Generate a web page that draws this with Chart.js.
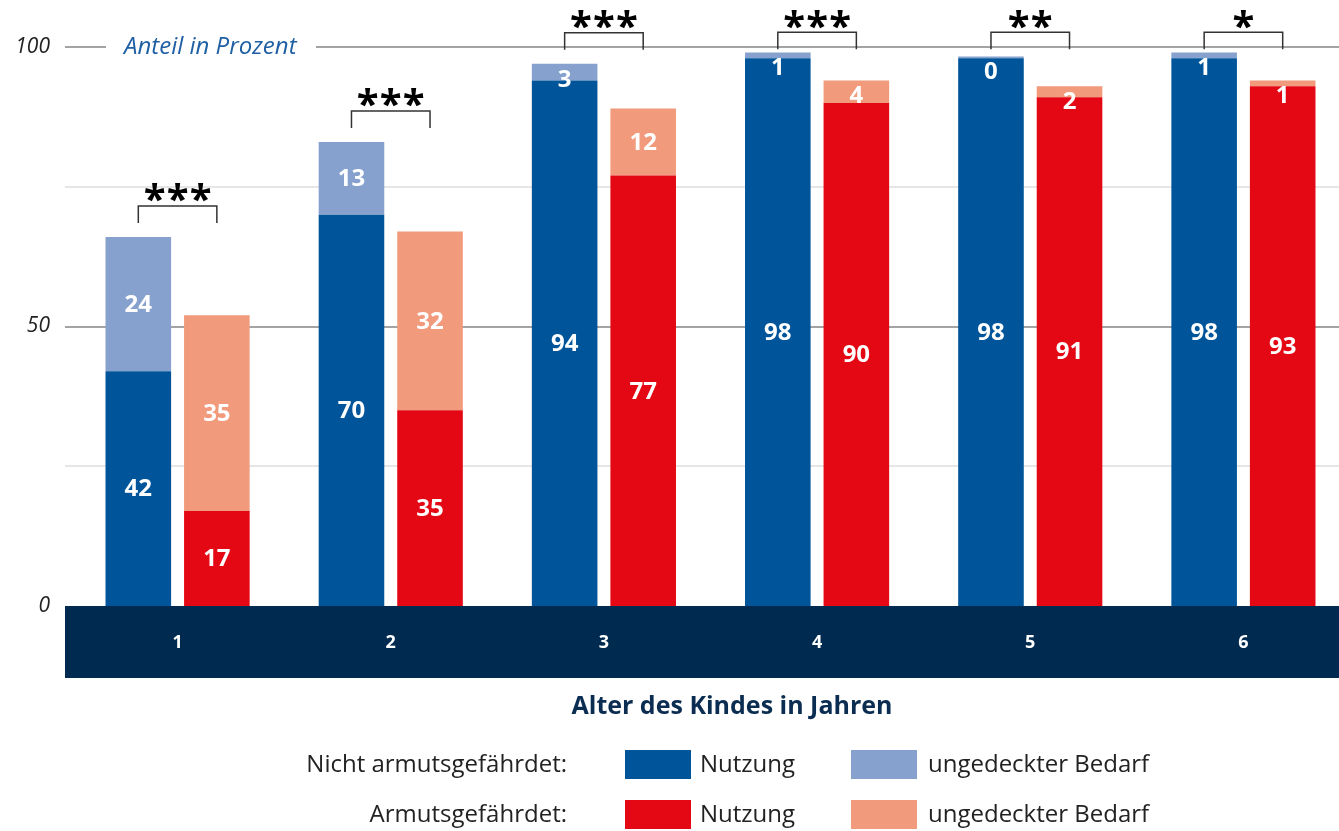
<!DOCTYPE html>
<html>
<head>
<meta charset="utf-8">
<script src="https://cdn.jsdelivr.net/npm/chart.js@4.4.1/dist/chart.umd.min.js"></script>
<style>
  html, body { margin: 0; padding: 0; overflow: hidden; background: #fff; }
  #wrap { position: absolute; left: 0; top: 0; width: 1352px; height: 831px; }
</style>
</head>
<body>
<div id="wrap"><canvas id="chart"></canvas></div>
<script>
var ages = ["1", "2", "3", "4", "5", "6"];
var nichtNutzung = [42, 70, 94, 98, 98, 98];
var nichtBedarf = [24, 13, 3, 1, 0.3, 1];
var armNutzung = [17, 35, 77, 90, 91, 93];
var armBedarf = [35, 32, 12, 4, 2, 1];
var signif = ["***", "***", "***", "***", "**", "*"];
var yTicks = [25, 50, 75, 100];
var yLabels = [0, 50, 100];

var colors = {
    blue: "#00559a",
    lightBlue: "#86a1cd",
    red: "#e30814",
    salmon: "#f29a7c",
    navy: "#002a4f"
};

var FONT = "'Open Sans', 'Noto Sans', sans-serif";

var overlay = {
    id: 'overlay',
    beforeDatasetsDraw: function (chart) {
        var ctx = chart.ctx, y = chart.scales.y;
        ctx.save();
        yTicks.forEach(function (v) {
            var py = Math.round(y.getPixelForValue(v));
            var major = v % 50 === 0;
            ctx.strokeStyle = major ? '#a3a3a3' : '#dedede';
            ctx.lineWidth = major ? 2 : 1.5;
            ctx.beginPath();
            ctx.moveTo(65, py);
            ctx.lineTo(chart.width, py);
            ctx.stroke();
        });
        // gap in the 100 line for the axis title
        var p100 = y.getPixelForValue(100);
        ctx.fillStyle = '#fff';
        ctx.fillRect(106, p100 - 4, 210, 8);
        ctx.fillStyle = '#1f5fa3';
        ctx.font = 'italic 24px ' + FONT;
        ctx.textAlign = 'left';
        ctx.textBaseline = 'middle';
        ctx.fillText('Anteil in Prozent', 124, p100);

        ctx.fillStyle = '#222';
        ctx.textAlign = 'right';
        ctx.font = 'italic 21px ' + FONT;
        yLabels.forEach(function (v) {
            ctx.fillText(String(v), 50, y.getPixelForValue(v));
        });
        ctx.restore();
    },
    afterDatasetsDraw: function (chart) {
        var ctx = chart.ctx, x = chart.scales.x, y = chart.scales.y;
        ctx.save();

        // category band
        var base = y.getPixelForValue(0);
        ctx.fillStyle = colors.navy;
        ctx.fillRect(65, base, chart.width - 65, 72);
        ctx.fillStyle = '#fff';
        ctx.font = 'bold 18px ' + FONT;
        ctx.textAlign = 'center';
        ctx.textBaseline = 'middle';
        ages.forEach(function (a, i) {
            ctx.fillText(a, x.getPixelForValue(i), base + 37);
        });

        // value labels
        ctx.font = 'bold 24px ' + FONT;
        [[0, 1], [2, 3]].forEach(function (pair) {
            var low = chart.getDatasetMeta(pair[0]).data;
            var high = chart.getDatasetMeta(pair[1]).data;
            var dl = chart.data.datasets[pair[0]].data;
            var dh = chart.data.datasets[pair[1]].data;
            low.forEach(function (el, i) {
                var top = high[i].y;
                ctx.fillText(String(Math.round(dl[i])), el.x, (el.y + el.base) / 2 + 1);
                var hy = Math.max((high[i].y + high[i].base) / 2, top + 15);
                ctx.fillText(String(Math.round(dh[i])), el.x, hy + 1);
            });
        });

        // significance brackets
        var blueTop = chart.getDatasetMeta(1).data;
        var redTop = chart.getDatasetMeta(3).data;
        ctx.strokeStyle = '#333';
        ctx.lineWidth = 1.5;
        signif.forEach(function (s, i) {
            var maxVal = Math.max(nichtNutzung[i] + nichtBedarf[i], armNutzung[i] + armBedarf[i]);
            var legY = y.getPixelForValue(Math.min(maxVal + 2.5, 99.6));
            var x1 = blueTop[i].x, x2 = redTop[i].x;
            var topY = legY - 17;
            ctx.beginPath();
            ctx.moveTo(x1, legY);
            ctx.lineTo(x1, topY);
            ctx.lineTo(x2, topY);
            ctx.lineTo(x2, legY);
            ctx.stroke();
            ctx.fillStyle = '#000';
            ctx.font = 'bold 40px ' + FONT;
            var cx = (x1 + x2) / 2, n = s.length, gap = 23;
            for (var k = 0; k < n; k++) {
                ctx.fillText('*', cx + (k - (n - 1) / 2) * gap, topY - 4);
            }
        });

        // axis title
        ctx.fillStyle = '#0b2d52';
        ctx.font = 'bold 25px ' + FONT;
        ctx.fillText('Alter des Kindes in Jahren', 732, 707);

        // legend
        var rows = [
            ['Nicht armutsgefährdet:', colors.blue, colors.lightBlue, 765],
            ['Armutsgefährdet:', colors.red, colors.salmon, 815]
        ];
        ctx.font = '24px ' + FONT;
        rows.forEach(function (r) {
            ctx.fillStyle = '#222';
            ctx.textAlign = 'right';
            ctx.fillText(r[0], 567, r[3]);
            ctx.fillStyle = r[1];
            ctx.fillRect(625, r[3] - 15, 66, 29);
            ctx.fillStyle = r[2];
            ctx.fillRect(851, r[3] - 15, 66, 29);
            ctx.fillStyle = '#222';
            ctx.textAlign = 'left';
            ctx.fillText('Nutzung', 700, r[3]);
            ctx.fillText('ungedeckter Bedarf', 928, r[3]);
        });
        ctx.restore();
    }
};

new Chart(document.getElementById('chart'), {
    type: 'bar',
    data: {
        labels: ages,
        datasets: [
            { label: 'Nicht armutsgefährdet: Nutzung', data: nichtNutzung, backgroundColor: colors.blue, stack: 'a' },
            { label: 'Nicht armutsgefährdet: ungedeckter Bedarf', data: nichtBedarf, backgroundColor: colors.lightBlue, stack: 'a' },
            { label: 'Armutsgefährdet: Nutzung', data: armNutzung, backgroundColor: colors.red, stack: 'b' },
            { label: 'Armutsgefährdet: ungedeckter Bedarf', data: armBedarf, backgroundColor: colors.salmon, stack: 'b' }
        ]
    },
    options: {
        responsive: true,
        maintainAspectRatio: false,
        animation: false,
        categoryPercentage: 0.737,
        barPercentage: 0.835,
        layout: { padding: { left: 71, right: 2, top: 47, bottom: 225 } },
        plugins: {
            legend: { display: false },
            tooltip: { enabled: false }
        },
        scales: {
            x: { stacked: true, display: false },
            y: { stacked: true, display: false, min: 0, max: 100 }
        }
    },
    plugins: [overlay]
});
</script>
</body>
</html>
